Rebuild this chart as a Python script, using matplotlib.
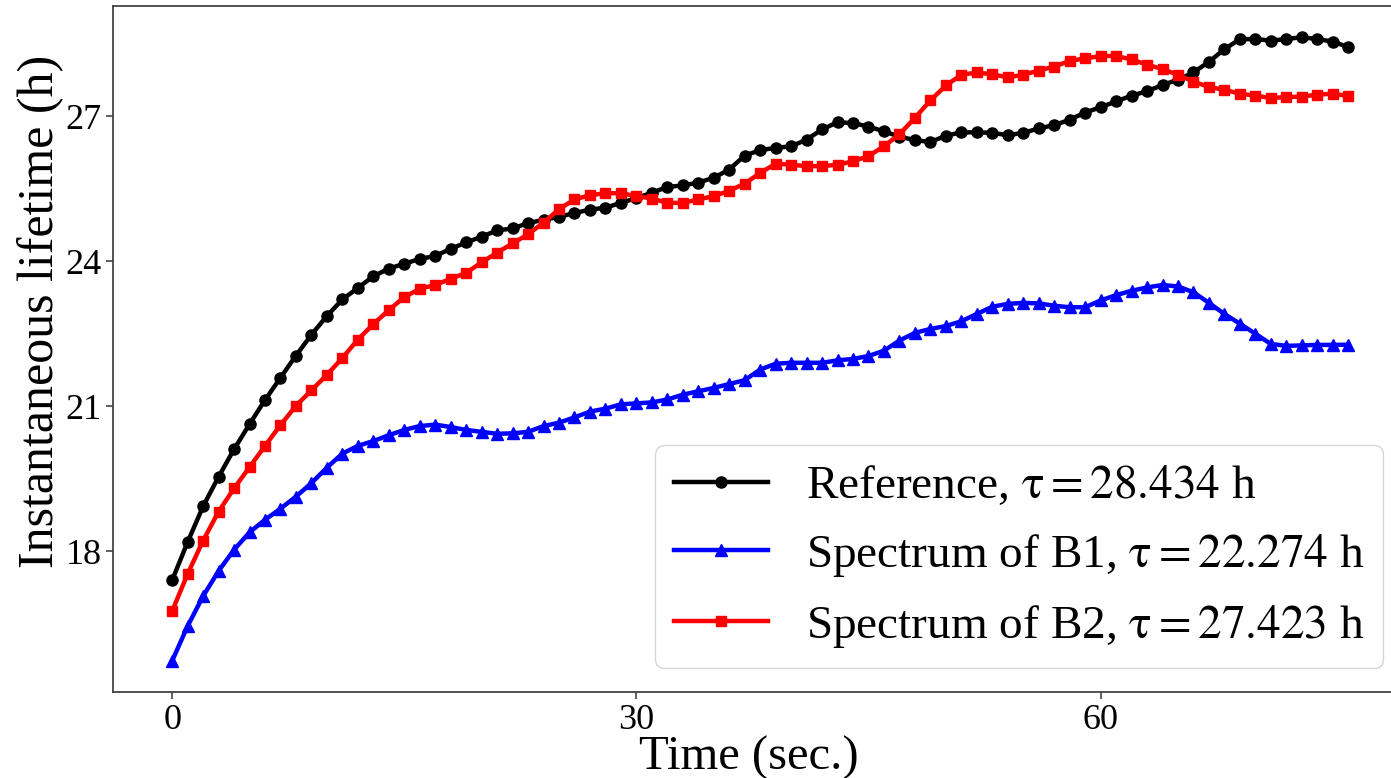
import matplotlib
matplotlib.use("Agg")
import matplotlib.pyplot as plt
import numpy as np

# Time axis (seconds) and instantaneous lifetime estimates (hours)
time_sec = list(range(77))

reference = [
    17.40, 18.19, 18.93, 19.54, 20.11, 20.63, 21.13, 21.59, 22.05, 22.48,
    22.87, 23.21, 23.45, 23.69, 23.85, 23.95, 24.05, 24.11, 24.26, 24.39,
    24.51, 24.64, 24.68, 24.79, 24.86, 24.92, 25.00, 25.07, 25.11, 25.21,
    25.31, 25.42, 25.54, 25.57, 25.63, 25.73, 25.90, 26.19, 26.30, 26.35,
    26.38, 26.52, 26.73, 26.88, 26.86, 26.79, 26.69, 26.58, 26.51, 26.47,
    26.60, 26.67, 26.67, 26.66, 26.61, 26.66, 26.75, 26.82, 26.93, 27.08,
    27.19, 27.31, 27.43, 27.52, 27.65, 27.76, 27.91, 28.13, 28.39, 28.60,
    28.60, 28.57, 28.60, 28.64, 28.60, 28.55, 28.434,
]

spectrum_b1 = [
    15.73, 16.45, 17.07, 17.59, 18.03, 18.39, 18.65, 18.88, 19.13, 19.41,
    19.73, 20.02, 20.18, 20.28, 20.40, 20.51, 20.59, 20.62, 20.57, 20.51,
    20.47, 20.43, 20.44, 20.47, 20.59, 20.66, 20.77, 20.89, 20.95, 21.04,
    21.06, 21.08, 21.14, 21.24, 21.31, 21.38, 21.46, 21.54, 21.76, 21.88,
    21.90, 21.90, 21.90, 21.95, 21.98, 22.04, 22.15, 22.36, 22.52, 22.60,
    22.66, 22.76, 22.91, 23.06, 23.12, 23.14, 23.13, 23.08, 23.05, 23.05,
    23.19, 23.30, 23.39, 23.46, 23.51, 23.48, 23.36, 23.14, 22.91, 22.71,
    22.50, 22.29, 22.25, 22.26, 22.27, 22.27, 22.274,
]

spectrum_b2 = [
    16.76, 17.53, 18.22, 18.82, 19.30, 19.74, 20.18, 20.61, 21.01, 21.33,
    21.65, 22.00, 22.38, 22.70, 22.99, 23.26, 23.43, 23.51, 23.64, 23.76,
    23.98, 24.18, 24.37, 24.56, 24.80, 25.08, 25.28, 25.37, 25.41, 25.41,
    25.35, 25.30, 25.21, 25.21, 25.28, 25.35, 25.46, 25.61, 25.83, 26.02,
    26.00, 25.97, 25.97, 26.00, 26.07, 26.18, 26.38, 26.63, 26.97, 27.33,
    27.64, 27.86, 27.91, 27.87, 27.81, 27.86, 27.95, 28.03, 28.15, 28.20,
    28.25, 28.25, 28.18, 28.07, 27.98, 27.86, 27.72, 27.61, 27.55, 27.47,
    27.43, 27.38, 27.40, 27.41, 27.45, 27.47, 27.423,
]

series_labels = [
    r"Reference, $\mathrm{\tau} = 28.434$ h",
    r"Spectrum of B1, $\mathrm{\tau} = 22.274$ h",
    r"Spectrum of B2, $\mathrm{\tau} = 27.423$ h",
]
x_ticks = [0, 30, 60]
y_ticks = [18, 21, 24, 27]

plt.rcParams["font.family"] = ["Liberation Serif", "DejaVu Serif"]
plt.rcParams["mathtext.fontset"] = "stix"

fig = plt.figure(figsize=(13.91, 7.78), dpi=100)
ax = fig.add_axes([0.0815, 0.1105, 0.930, 0.8818])

ax.plot(time_sec, reference, color="black", marker="o", markersize=8,
        linewidth=3.2, label=series_labels[0])
ax.plot(time_sec, spectrum_b1, color="blue", marker="^", markersize=8,
        linewidth=3.2, label=series_labels[1])
ax.plot(time_sec, spectrum_b2, color="red", marker="s", markersize=7.5,
        linewidth=3.2, label=series_labels[2])

ax.set_xticks(x_ticks)
ax.set_yticks(y_ticks)
ax.tick_params(labelsize=26, length=5, width=1.2, colors="#444444",
               labelcolor="black")
for spine in ax.spines.values():
    spine.set_color("#444444")
    spine.set_linewidth(1.3)

ax.set_xlabel("Time (sec.)", fontsize=35)
ax.set_ylabel("Instantaneous lifetime (h)", fontsize=36)
ax.xaxis.set_label_coords(0.491, -0.064)
ax.yaxis.set_label_coords(-0.038, 0.555)

ax.legend(loc="lower right", fontsize=34, borderaxespad=0.5)

fig.savefig("out.png", dpi=100)
